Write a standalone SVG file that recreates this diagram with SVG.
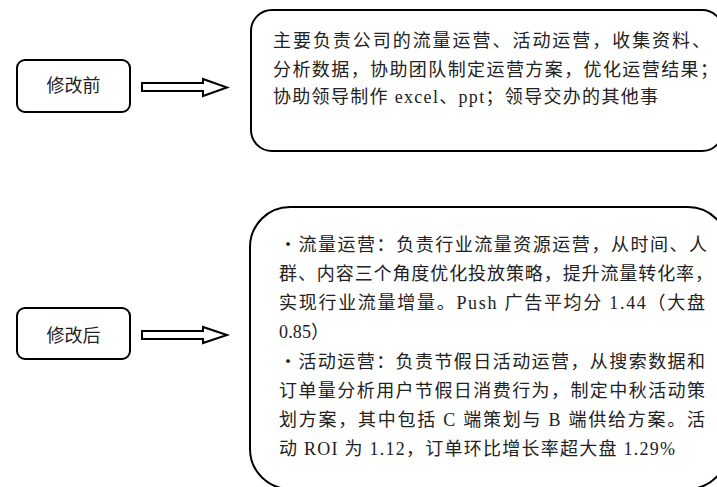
<svg xmlns="http://www.w3.org/2000/svg" width="717" height="487" viewBox="0 0 717 487">
<style>
.box{fill:#fff;stroke:#000;stroke-width:2}
.arr{fill:#fff;stroke:#000;stroke-width:2;stroke-linejoin:miter}
.t{font-family:"Liberation Serif","Noto Sans CJK SC",serif;font-size:18px;fill:#222}
.lbl{font-family:"Liberation Serif","Noto Sans CJK SC",serif;font-size:18px;fill:#222;text-anchor:middle}
</style>
<rect width="717" height="487" fill="#fff"/>
<g id="before">
<rect class="box" x="17" y="60" width="113" height="52" rx="8"/>
<text class="lbl" x="73.5" y="92">修改前</text>
</g>
<g id="after">
<rect class="box" x="17" y="308" width="113" height="51" rx="8"/>
<text class="lbl" x="73.5" y="342">修改后</text>
</g>
<g id="before-desc">
<rect class="box" x="251" y="10" width="472" height="141" rx="21"/>
<text class="t" x="273" y="47" textLength="437" lengthAdjust="spacing">主要负责公司的流量运营、活动运营，收集资料、</text>
<text class="t" x="273" y="76" textLength="445" lengthAdjust="spacing">分析数据，协助团队制定运营方案，优化运营结果；</text>
<text class="t" x="273" y="103" textLength="385" lengthAdjust="spacing">协助领导制作 excel、ppt；领导交办的其他事</text>
</g>
<g id="after-desc">
<rect class="box" x="250" y="207" width="478" height="282" rx="40"/>
<text class="t" x="279" y="251" textLength="428" lengthAdjust="spacing">・流量运营：负责行业流量资源运营，从时间、人</text>
<text class="t" x="279" y="280" textLength="434" lengthAdjust="spacing">群、内容三个角度优化投放策略，提升流量转化率，</text>
<text class="t" x="279" y="309" textLength="426" lengthAdjust="spacing">实现行业流量增量。Push 广告平均分 1.44（大盘</text>
<text class="t" x="279" y="338" textLength="50" lengthAdjust="spacing">0.85）</text>
<text class="t" x="279" y="368" textLength="426" lengthAdjust="spacing">・活动运营：负责节假日活动运营，从搜索数据和</text>
<text class="t" x="279" y="397" textLength="426" lengthAdjust="spacing">订单量分析用户节假日消费行为，制定中秋活动策</text>
<text class="t" x="279" y="426" textLength="426" lengthAdjust="spacing">划方案，其中包括 C 端策划与 B 端供给方案。活</text>
<text class="t" x="279" y="455" textLength="396" lengthAdjust="spacing">动 ROI 为 1.12，订单环比增长率超大盘 1.29%</text>
</g>
<g id="connectors">
<path class="arr" d="M142,83 H203 V79 L227,87.5 L203,96 V91 H142 Z"/>
<path class="arr" d="M142,331 H203 V327 L227,335 L203,343 V339 H142 Z"/>
</g>
</svg>
